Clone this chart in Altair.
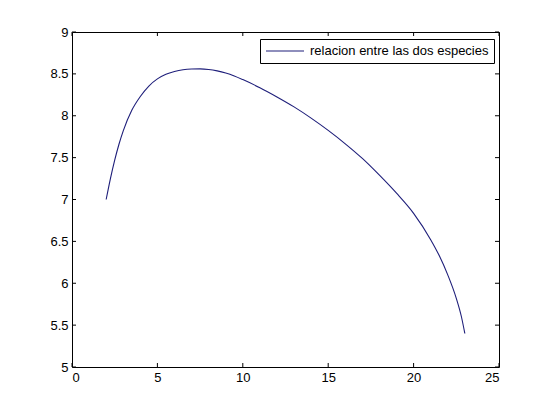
import altair as alt
import pandas as pd

# Data
x_vals = [2.0, 2.25, 2.5, 2.75, 3.0, 3.5, 4.0, 4.5, 5.0, 5.5, 6.0, 6.5, 7.0, 7.5,
          8.0, 8.5, 9.0, 9.5, 10.0, 11.0, 12.0, 13.0, 14.0, 15.0, 16.0, 17.0,
          18.0, 19.0, 20.0, 21.0, 21.5, 22.0, 22.5, 22.8, 23.0]
y_vals = [7.0, 7.25, 7.47, 7.66, 7.82, 8.065, 8.23, 8.355, 8.44, 8.495, 8.528, 8.549,
          8.558, 8.56, 8.553, 8.536, 8.51, 8.475, 8.432, 8.335, 8.225, 8.106, 7.972,
          7.825, 7.665, 7.49, 7.29, 7.075, 6.835, 6.52, 6.33, 6.10, 5.82, 5.60, 5.40]
series_name = "relacion entre las dos especies"
x_ticks = [0, 5, 10, 15, 20, 25]
y_ticks = [5, 5.5, 6, 6.5, 7, 7.5, 8, 8.5, 9]

W, H = 427, 335
TL = 4
LINE_COLOR = "#1e1e7a"
FONT = "Liberation Sans"

df = pd.DataFrame({"x": x_vals, "y": y_vals, "serie": [series_name] * len(x_vals)})
xt = pd.DataFrame({"v": x_ticks})
yt = pd.DataFrame({"v": y_ticks})

xscale = alt.Scale(domain=[0, 25], nice=False, zero=False)
yscale = alt.Scale(domain=[5, 9], nice=False, zero=False)

xaxis = alt.Axis(values=x_ticks, format="~g", ticks=False, domain=False, grid=False,
                 labelPadding=4, labelFontSize=13, labelFont=FONT, labelColor="black",
                 title=None)
yaxis = alt.Axis(values=y_ticks, format="~g", ticks=False, domain=False, grid=False,
                 labelPadding=4, labelFontSize=13, labelFont=FONT, labelColor="black",
                 title=None)

line = alt.Chart(df).mark_line(strokeWidth=1.1, interpolate="monotone").encode(
    x=alt.X("x:Q", scale=xscale, axis=xaxis),
    y=alt.Y("y:Q", scale=yscale, axis=yaxis),
    color=alt.Color(
        "serie:N",
        scale=alt.Scale(domain=[series_name], range=[LINE_COLOR]),
        legend=alt.Legend(
            title=None, orient="none", legendX=188, legendY=7,
            symbolType="stroke", symbolSize=1444, symbolStrokeWidth=1.2,
            clipHeight=14, padding=5, labelOffset=5, labelLimit=400,
            labelFontSize=13, labelFont=FONT, labelColor="black",
            strokeColor="black", fillColor="white", cornerRadius=0,
        ),
    ),
)

bottom_ticks = alt.Chart(xt).mark_rule(color="black", strokeWidth=1).encode(
    x=alt.X("v:Q", scale=xscale), y=alt.value(H), y2=alt.value(H - TL))
top_ticks = alt.Chart(xt).mark_rule(color="black", strokeWidth=1).encode(
    x=alt.X("v:Q", scale=xscale), y=alt.value(0), y2=alt.value(TL))
left_ticks = alt.Chart(yt).mark_rule(color="black", strokeWidth=1).encode(
    y=alt.Y("v:Q", scale=yscale), x=alt.value(0), x2=alt.value(TL))
right_ticks = alt.Chart(yt).mark_rule(color="black", strokeWidth=1).encode(
    y=alt.Y("v:Q", scale=yscale), x=alt.value(W), x2=alt.value(W - TL))

chart = alt.layer(line, bottom_ticks, top_ticks, left_ticks, right_ticks).properties(
    width=W, height=H,
    autosize=alt.AutoSizeParams(type="none"),
    padding={"left": 64, "top": 24, "right": 30, "bottom": 30},
    background="white",
).configure_view(stroke="black", strokeWidth=1)

chart.save("out.html", embed_options={"renderer": "svg", "actions": False})
